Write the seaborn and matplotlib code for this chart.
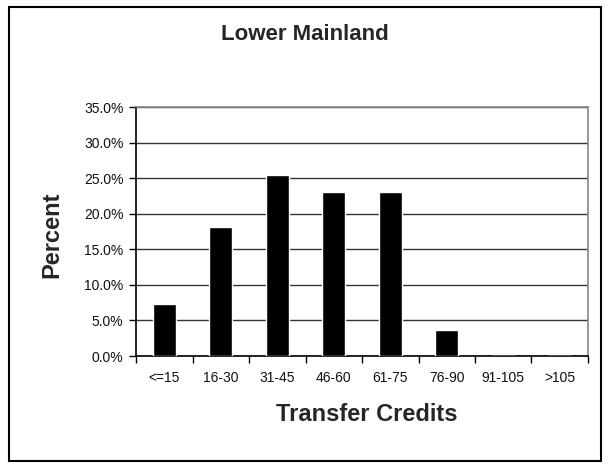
import matplotlib
matplotlib.use("Agg")
import matplotlib.pyplot as plt
from matplotlib.patches import Rectangle
from matplotlib.ticker import FuncFormatter, FixedLocator
import seaborn as sns
import pandas as pd
import numpy as np

credits = ['<=15', '16-30', '31-45', '46-60', '61-75', '76-90', '91-105', '>105']
percent = [7.3, 18.2, 25.5, 23.0, 23.0, 3.7, 0.0, 0.0]

df = pd.DataFrame({'credits': credits, 'percent': percent})

sns.set_style('white')
plt.rcParams['font.family'] = ['Liberation Sans', 'DejaVu Sans']

fig = plt.figure(figsize=(6.08, 4.66), dpi=100)
ax = fig.add_axes([0.2237, 0.236, 0.7434, 0.534])

sns.barplot(data=df, x='credits', y='percent', color='black', width=0.41,
            saturation=1, ax=ax, zorder=3)

ax.set_ylim(0, 35)
ax.set_xlim(-0.5, len(credits) - 0.5)
ax.set_yticks(np.arange(0, 36, 5))
ax.yaxis.set_major_formatter(FuncFormatter(lambda v, p: '%.1f%%' % v))
ax.grid(axis='y', color='#333333', linewidth=1, zorder=0)

# ticks between categories
ax.xaxis.set_minor_locator(FixedLocator(np.arange(-0.5, len(credits), 1)))
ax.tick_params(axis='x', which='major', length=0, pad=11, labelsize=10, labelcolor='#111111')
ax.tick_params(axis='x', which='minor', length=5, width=1, color='black', direction='out', bottom=True)
ax.tick_params(axis='y', length=5, width=1, color='black', direction='out', left=True,
               labelsize=10, pad=4, labelcolor='#111111')

for s in ['left', 'bottom']:
    ax.spines[s].set_color('black')
    ax.spines[s].set_linewidth(1.2)
for s in ['top', 'right']:
    ax.spines[s].set_color('#888888')
    ax.spines[s].set_linewidth(1.2)

ax.set_xlabel('')
ax.set_ylabel('')
fig.text(0.604, 0.11, 'Transfer Credits', ha='center', va='center', fontsize=17, fontweight='bold')
fig.text(0.086, 0.496, 'Percent', ha='center', va='center', rotation=90, fontsize=17, fontweight='bold')
fig.text(0.502, 0.925, 'Lower Mainland', ha='center', va='center', fontsize=16, fontweight='bold')

fig.patches.append(Rectangle((0.014, 0.01), 0.975, 0.976, transform=fig.transFigure,
                             fill=False, edgecolor='black', linewidth=1.5))

fig.savefig('out.png', dpi=100)
